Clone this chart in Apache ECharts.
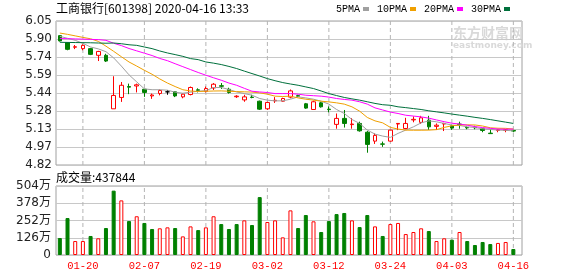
<!DOCTYPE html>
<html><head><meta charset="utf-8">
<script src="https://cdn.jsdelivr.net/npm/echarts@6/dist/echarts.min.js"></script>
<style>html,body{margin:0;padding:0;background:#fff}#c{width:578px;height:276px}</style>
</head><body><div id="c"></div>
<script>
const titleText = '工商银行[601398] 2020-04-16 13:33';
const volTitle = '成交量:437844';
const seriesNames = ['5PMA','10PMA','20PMA','30PMA'];
const dates = ['01-15','01-16','01-17','01-20','01-21','01-22','01-23','02-03','02-04','02-05','02-06','02-07','02-10','02-11','02-12','02-13','02-14','02-17','02-18','02-19','02-20','02-21','02-24','02-25','02-26','02-27','02-28','03-02','03-03','03-04','03-05','03-06','03-09','03-10','03-11','03-12','03-13','03-16','03-17','03-18','03-19','03-20','03-23','03-24','03-25','03-26','03-27','03-30','03-31','04-01','04-02','04-03','04-07','04-08','04-09','04-10','04-13','04-14','04-15','04-16'];
const labelDates = ['01-20','02-07','02-19','03-02','03-12','03-24','04-03','04-16'];
const openP = [5.925,5.865,5.826,5.814,5.814,5.757,5.757,5.30,5.397,5.49,5.495,5.467,5.41,5.431,5.445,5.445,5.402,5.422,5.462,5.45,5.478,5.497,5.467,5.403,5.376,5.40,5.365,5.30,5.368,5.365,5.40,5.412,5.343,5.294,5.351,5.297,5.167,5.218,5.165,5.175,5.10,5.024,5.00,5.024,5.17,5.132,5.205,5.184,5.203,5.15,5.17,5.155,5.17,5.14,5.142,5.13,5.092,5.115,5.115,5.115];
const closeP = [5.88,5.808,5.83,5.842,5.765,5.79,5.708,5.414,5.501,5.485,5.505,5.44,5.418,5.456,5.445,5.41,5.425,5.482,5.458,5.473,5.51,5.493,5.44,5.408,5.402,5.397,5.297,5.354,5.373,5.388,5.453,5.408,5.306,5.36,5.317,5.293,5.218,5.175,5.17,5.112,4.996,5.073,4.998,5.118,5.175,5.175,5.21,5.223,5.146,5.16,5.175,5.135,5.165,5.137,5.138,5.115,5.088,5.12,5.12,5.11];
const lowP = [5.875,5.80,5.81,5.80,5.759,5.708,5.70,5.30,5.359,5.425,5.44,5.402,5.385,5.415,5.42,5.40,5.39,5.415,5.44,5.44,5.46,5.47,5.43,5.393,5.36,5.39,5.29,5.29,5.35,5.36,5.39,5.40,5.30,5.29,5.31,5.27,5.13,5.14,5.13,5.105,4.925,5.00,4.975,5.02,5.118,5.125,5.185,5.17,5.12,5.12,5.11,5.12,5.13,5.125,5.125,5.10,5.088,5.10,5.10,5.10];
const highP = [5.93,5.87,5.845,5.85,5.82,5.795,5.77,5.578,5.529,5.515,5.515,5.47,5.43,5.465,5.46,5.45,5.43,5.49,5.475,5.49,5.52,5.52,5.48,5.416,5.42,5.42,5.37,5.36,5.40,5.395,5.465,5.42,5.35,5.37,5.36,5.32,5.26,5.29,5.22,5.19,5.11,5.09,5.02,5.12,5.176,5.223,5.235,5.24,5.24,5.175,5.18,5.165,5.19,5.15,5.155,5.13,5.125,5.125,5.125,5.12];
const ma5 = [5.919,5.902,5.885,5.859,5.828,5.812,5.788,5.735,5.665,5.59,5.53,5.47,5.463,5.463,5.459,5.442,5.433,5.442,5.45,5.455,5.482,5.482,5.465,5.444,5.43,5.416,5.388,5.374,5.368,5.368,5.382,5.402,5.393,5.382,5.365,5.34,5.294,5.26,5.209,5.175,5.118,5.084,5.067,5.056,5.09,5.118,5.146,5.18,5.197,5.189,5.175,5.161,5.158,5.146,5.14,5.129,5.124,5.118,5.116,5.112];
const ma10 = [5.947,5.936,5.923,5.91,5.898,5.876,5.835,5.791,5.745,5.70,5.665,5.629,5.595,5.555,5.52,5.49,5.463,5.452,5.448,5.45,5.452,5.453,5.45,5.447,5.445,5.443,5.436,5.425,5.408,5.405,5.408,5.393,5.382,5.374,5.365,5.359,5.351,5.34,5.317,5.28,5.226,5.197,5.18,5.141,5.127,5.118,5.117,5.117,5.118,5.122,5.141,5.155,5.161,5.163,5.162,5.153,5.138,5.134,5.133,5.127];
const ma20 = [5.90,5.899,5.897,5.895,5.893,5.891,5.885,5.86,5.84,5.815,5.795,5.775,5.755,5.73,5.711,5.685,5.66,5.635,5.61,5.587,5.565,5.544,5.52,5.501,5.475,5.45,5.444,5.439,5.43,5.43,5.43,5.425,5.416,5.412,5.408,5.40,5.388,5.38,5.374,5.36,5.34,5.308,5.29,5.272,5.26,5.245,5.238,5.231,5.22,5.205,5.19,5.177,5.17,5.16,5.148,5.14,5.133,5.127,5.126,5.127];
const ma30 = [5.868,5.867,5.866,5.865,5.864,5.862,5.86,5.862,5.856,5.847,5.842,5.828,5.814,5.794,5.777,5.763,5.748,5.729,5.72,5.70,5.69,5.678,5.662,5.644,5.622,5.601,5.58,5.558,5.54,5.524,5.512,5.501,5.487,5.473,5.452,5.43,5.413,5.397,5.385,5.374,5.36,5.346,5.335,5.33,5.317,5.31,5.302,5.294,5.283,5.274,5.265,5.255,5.246,5.237,5.227,5.218,5.208,5.197,5.186,5.175];
const volume = [124,270,102,102,139,122,197,470,399,248,283,234,190,195,202,197,136,209,182,202,283,226,190,226,253,219,423,241,253,129,326,197,292,246,168,248,299,307,253,204,292,209,139,226,234,153,168,195,175,102,122,112,168,102,73,95,80,88,95,43.78];
const volDir = [-1,-1,1,1,-1,1,-1,-1,1,-1, 1,-1,-1,1,1,-1,1,1,-1,1, 1,-1,-1,-1,1,-1,-1,1,1,1, 1,-1,-1,1,-1,-1,-1,-1,1,-1, -1,1,-1,1,1,1,1,1,-1,1, 1,-1,1,-1,-1,-1,-1,1,1,-1];
const priceTicks = ['4.82','4.97','5.13','5.28','5.44','5.59','5.74','5.90','6.05'];
const priceMin = 4.82, priceMax = 6.05;
const volTicks = ['0','126万','252万','378万','504万'];
const volMax = 504;

const RED = '#ff0000', GREEN = '#008000', GRID = '#c8c8c8', BORDER = '#a0a0a0';
const CJK = '"Noto Sans CJK SC", sans-serif';
const MONO = '"Liberation Mono", "Noto Sans CJK SC", monospace';
const NUM = '"DejaVu Sans", "Noto Sans CJK SC", sans-serif';

const candleData = dates.map((d, i) => [openP[i], closeP[i], lowP[i], highP[i]]);
const volData = volume.map((v, i) => ({
  value: v,
  itemStyle: volDir[i] > 0 ? {color: '#fff', borderColor: RED, borderWidth: 1}
                            : {color: GREEN, borderColor: GREEN, borderWidth: 1}
}));
const maColors = ['#a0a0a0', '#f0a000', '#ff00ff', '#00703c'];
const maData = [ma5, ma10, ma20, ma30];

// vertical dashed date lines as plain line series on the category axes
function dateLineSeries(xIdx, yIdx, lo, hi) {
  return labelDates.map(d => ({
    type: 'line', name: 'date-' + d, xAxisIndex: xIdx, yAxisIndex: yIdx, silent: true, z: 1,
    showSymbol: false, symbol: 'none', legendHoverLink: false, tooltip: {show: false},
    data: [[dates.indexOf(d), lo], [dates.indexOf(d), hi]],
    lineStyle: {color: '#b4b4b4', width: 1, type: [4, 3]}
  }));
}

const L = 56, W_FULL = 466, W_DATA = 461.2;
const isLabelDate = (idx, v) => labelDates.indexOf(v) >= 0;

const chart = echarts.init(document.getElementById('c'), null, {renderer: 'canvas'});
chart.setOption({
  animation: false,
  backgroundColor: '#fff',
  title: [
    {text: titleText, left: 56, top: 2, padding: 0, textStyle: {fontSize: 12, fontWeight: 'normal', fontFamily: CJK, color: '#000'}},
    {text: volTitle, left: 56, top: 171, padding: 0, textStyle: {fontSize: 12, fontWeight: 'normal', fontFamily: CJK, color: '#000'}}
  ],
  legend: {
    data: seriesNames, right: 68, top: 4, padding: 0, align: 'right', icon: 'rect',
    itemWidth: 6, itemHeight: 4, itemGap: 8, selectedMode: false,
    textStyle: {fontSize: 10, fontFamily: MONO, color: '#000', padding: [0, -2, 0, 0]}
  },
  graphic: [
    {type: 'text', left: 453, top: 26, silent: true, z: 0, style: {text: '东方财富网', fill: '#d9d9d9', font: 'bold 14px "Noto Sans CJK SC"'}},
    {type: 'text', left: 453, top: 41, silent: true, z: 0, style: {text: 'eastmoney.com', fill: '#d9d9d9', font: 'bold 9px "DejaVu Sans"'}}
  ],
  grid: [
    {left: L, top: 21, width: W_FULL, height: 144, show: true, borderColor: BORDER, borderWidth: 1, backgroundColor: 'transparent'},
    {left: L, top: 21, width: W_DATA, height: 144},
    {left: L, top: 186, width: W_FULL, height: 69, show: true, borderColor: BORDER, borderWidth: 1, backgroundColor: 'transparent'},
    {left: L, top: 186, width: W_DATA, height: 69}
  ],
  xAxis: [
    {gridIndex: 0, type: 'value', min: 0, max: 1, show: false},
    {gridIndex: 1, type: 'category', data: dates, boundaryGap: true, axisLine: {show: false}, axisTick: {show: false}, axisLabel: {show: false}, splitLine: {show: false}},
    {gridIndex: 2, type: 'value', min: 0, max: 1, show: false},
    {gridIndex: 3, type: 'category', data: dates, boundaryGap: true, axisLine: {show: false}, axisTick: {show: false}, splitLine: {show: false},
      axisLabel: {show: true, margin: 6, color: RED, fontSize: 10.5, fontFamily: MONO, interval: isLabelDate}}
  ],
  yAxis: [
    {gridIndex: 0, type: 'value', min: 0, max: priceTicks.length - 1, interval: 1,
      axisLine: {show: false}, axisTick: {show: false},
      axisLabel: {margin: 4, color: '#222', fontSize: 12, fontFamily: NUM, formatter: v => priceTicks[Math.round(v)]},
      splitLine: {show: true, lineStyle: {color: GRID, width: 1}}},
    {gridIndex: 1, type: 'value', min: priceMin, max: priceMax, show: false, splitLine: {show: false}},
    {gridIndex: 2, type: 'value', min: 0, max: volTicks.length - 1, interval: 1,
      axisLine: {show: false}, axisTick: {show: false},
      axisLabel: {margin: 5, color: '#222', fontSize: 12, fontFamily: NUM, formatter: v => volTicks[Math.round(v)]},
      splitLine: {show: true, lineStyle: {color: GRID, width: 1}}},
    {gridIndex: 3, type: 'value', min: 0, max: volMax, show: false, splitLine: {show: false}}
  ],
  series: [
    ...dateLineSeries(1, 1, priceMin, priceMax),
    ...dateLineSeries(3, 3, 0, volMax),
    {type: 'candlestick', name: 'K', xAxisIndex: 1, yAxisIndex: 1, data: candleData, barWidth: 4, z: 3,
      itemStyle: {color: '#ffffff', color0: GREEN, borderColor: RED, borderColor0: GREEN, borderColorDoji: '#000000', borderWidth: 1}},
    ...seriesNames.map((n, k) => ({
      type: 'line', name: n, xAxisIndex: 1, yAxisIndex: 1, data: maData[k], showSymbol: false, symbol: 'none', z: 4,
      color: maColors[k], lineStyle: {width: 1, color: maColors[k]}, silent: true
    })),
    {type: 'bar', name: 'VOL', xAxisIndex: 3, yAxisIndex: 3, data: volData, barWidth: 4, z: 3}
  ]
});
</script>
</body></html>
